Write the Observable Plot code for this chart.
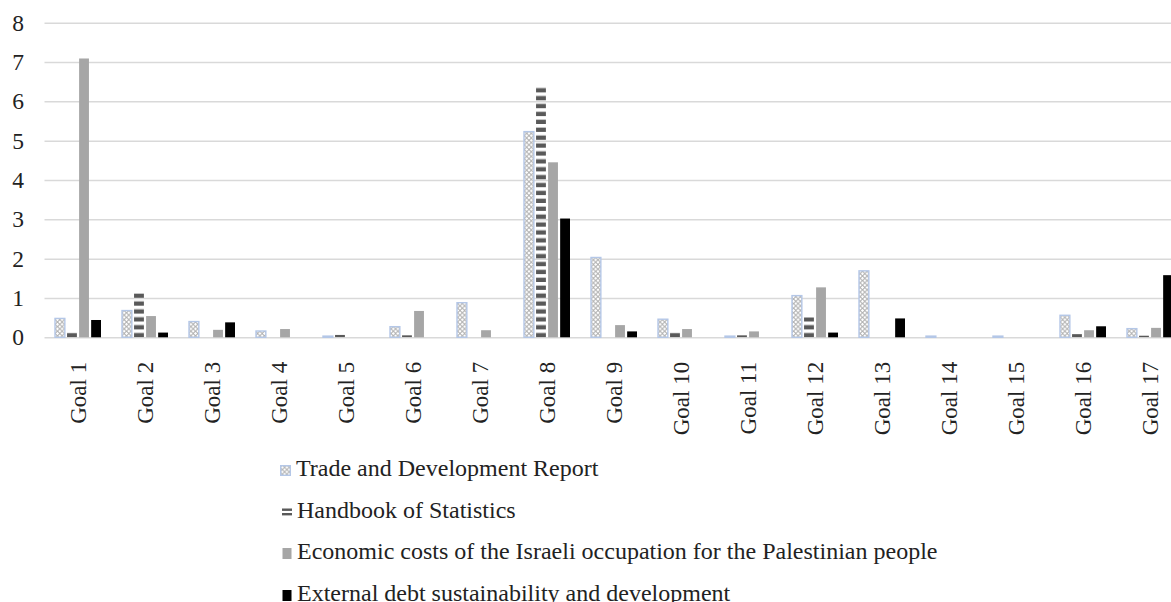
<!DOCTYPE html>
<html>
<head>
<meta charset="utf-8">
<script src="https://cdn.jsdelivr.net/npm/d3@7"></script>
<script src="https://cdn.jsdelivr.net/npm/@observablehq/plot@0.6"></script>
<style>
  html, body { margin: 0; padding: 0; background: #fff; overflow: hidden; }
  #chart svg { display: block; }
  #legend { font-family: "Liberation Serif", "Times New Roman", serif; font-size: 24px; color: #222; padding-left: 282px; }
  #legend .row { height: 41.5px; line-height: 41.5px; white-space: nowrap; }
  #legend svg { vertical-align: baseline; margin-right: 5px; }
</style>
</head>
<body>
<svg width="0" height="0" style="position:absolute">
  <defs>
    <pattern id="pTDR" patternUnits="userSpaceOnUse" width="4.6" height="4.6">
      <rect width="4.6" height="4.6" fill="#ffffff"/>
      <circle cx="2.3" cy="2.3" r="1.8" fill="none" stroke="#8c8c8c" stroke-width="0.8"/>
    </pattern>
    <pattern id="pHB" patternUnits="userSpaceOnUse" x="0" y="337.3" width="20" height="7.9">
      <rect x="0" y="3.6" width="20" height="4.3" fill="#595959"/>
    </pattern>
  </defs>
</svg>
<div id="chart"></div>
<div id="legend"></div>
<script>
const goals = ["Goal 1","Goal 2","Goal 3","Goal 4","Goal 5","Goal 6","Goal 7","Goal 8","Goal 9","Goal 10","Goal 11","Goal 12","Goal 13","Goal 14","Goal 15","Goal 16","Goal 17"];
const seriesNames = [
  "Trade and Development Report",
  "Handbook of Statistics",
  "Economic costs of the Israeli occupation for the Palestinian people",
  "External debt sustainability and development"
];
const tradeDev   = [0.48, 0.68, 0.40, 0.16, 0.03, 0.27, 0.88, 5.23, 2.03, 0.46, 0.03, 1.06, 1.69, 0.03, 0.03, 0.56, 0.22];
const handbook   = [0.12, 1.12, 0,    0,    0.06, 0.05, 0,    6.40, 0,    0.12, 0.05, 0.51, 0,    0,    0,    0.08, 0.04];
const econCosts  = [7.09, 0.54, 0.19, 0.21, 0,    0.67, 0.18, 4.45, 0.31, 0.21, 0.15, 1.27, 0,    0,    0,    0.18, 0.24];
const extDebt    = [0.44, 0.12, 0.38, 0,    0,    0,    0,    3.02, 0.15, 0,    0,    0.12, 0.48, 0,    0,    0.28, 1.58];
const yTicks = [0, 1, 2, 3, 4, 5, 6, 7, 8];

const seriesValues = [tradeDev, handbook, econCosts, extDebt];
const fills = ["url(#pTDR)", "url(#pHB)", "#a6a6a6", "#000000"];
const strokes = ["#b4c7e7", "none", "none", "none"];

const H = 448;
const y0 = 337.3;
const step = 12.05;

const barMarks = seriesValues.map((vals, s) =>
  Plot.barY(goals.map((g, i) => ({goal: g, value: vals[i]})).filter(d => d.value > 0), {
    x: "goal",
    y: "value",
    fill: fills[s],
    stroke: strokes[s],
    strokeWidth: s === 0 ? 1.4 : 0,
    insetLeft: s * step + 1,
    insetRight: (3 - s) * step + 1
  })
);

const chart = Plot.plot({
  width: 1171,
  height: H,
  marginLeft: 44.5,
  marginRight: -12.5,
  marginTop: 22.7,
  marginBottom: H - y0,
  style: {fontFamily: "'Liberation Serif', 'Times New Roman', serif", fontSize: "24px", color: "#222", background: "#fff"},
  x: {domain: goals, paddingInner: 0.28, paddingOuter: 0.14, label: null},
  y: {domain: [0, 8], label: null},
  marks: [
    Plot.ruleY(yTicks, {stroke: "#d9d9d9", strokeWidth: 1.5}),
    ...barMarks,
    Plot.axisX({tickSize: 0, tickPadding: 24, tickRotate: -90, fontSize: 23, label: null}),
    Plot.axisY({ticks: yTicks, tickSize: 0, tickPadding: 21, fontSize: 23.5, label: null, tickFormat: d3.format("d")})
  ]
});
document.getElementById("chart").appendChild(chart);

const legend = document.getElementById("legend");
const swatchSvgs = [
  '<svg width="11" height="11" viewBox="0 0 11 11" style="margin-left:-2px"><rect x="0.7" y="0.7" width="9.6" height="9.6" fill="url(#pTDR)" stroke="#b4c7e7" stroke-width="1.4"/></svg>',
  '<svg width="10" height="11" viewBox="0 0 10 11"><rect x="0" y="1.5" width="10" height="2.4" fill="#595959"/><rect x="0" y="6" width="10" height="2.4" fill="#595959"/></svg>',
  '<svg width="10" height="11" viewBox="0 0 10 11"><rect x="0.5" y="0" width="9" height="11" fill="#a6a6a6"/></svg>',
  '<svg width="10" height="11" viewBox="0 0 10 11"><rect x="0.5" y="0" width="9" height="11" fill="#000"/></svg>'
];
seriesNames.forEach((name, s) => {
  const row = document.createElement("div");
  row.className = "row";
  row.innerHTML = swatchSvgs[s];
  row.appendChild(document.createTextNode(name));
  legend.appendChild(row);
});
</script>
</body>
</html>
